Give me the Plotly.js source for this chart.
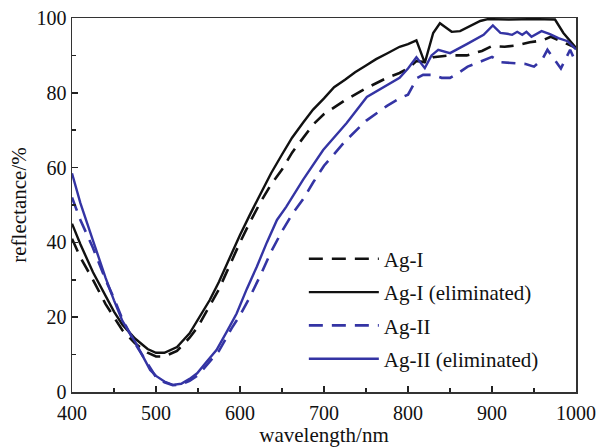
<!DOCTYPE html>
<html>
<head>
<meta charset="utf-8">
<script src="https://cdn.plot.ly/plotly-3.0.1.min.js"></script>
<style>html,body{margin:0;padding:0;background:#fff;}#chart{width:600px;height:447px;}</style>
</head>
<body>
<div id="chart"></div>
<script>
// Ag-I (dashed, black)
const agI_x = [400,410,425,440,450,460,475,490,500,510,525,540,550,560,575,590,600,612,625,637,650,662,675,687,700,725,750,775,790,800,810,820,830,850,870,888,900,915,930,945,960,970,985,1000];
const agI_y = [41,36,30,23.5,20,16.5,13,10.5,9.5,9.5,11,14.5,17.5,21.5,27.5,35,40,45.5,51,55.5,59.5,64,68,71.5,74.3,78,81.2,84,85.3,86.5,88.5,88.2,89.5,90,90,91.2,92.5,92.3,92.7,93.5,94,95,93.5,92];
// Ag-I (eliminated), solid black
const agIe_x = [400,410,425,440,450,460,475,490,500,510,525,540,550,564,575,588,600,612,625,637,650,662,675,687,700,712,725,737,750,762,775,790,800,810,820,830,838,852,862,874,886,895,920,950,975,985,1000];
const agIe_y = [45,39.5,32,25.5,21.5,18,14.3,11.5,10.5,10.5,12,15.7,19.5,24.6,29.5,36,42,47.5,53,58.5,63.5,68,72,75.5,78.5,81.5,83.5,85.5,87.3,89,90.5,92.3,93,94,88,96,98.6,96.3,96.5,97.8,99.2,99.7,99.6,99.7,99.6,96,92];
// Ag-II (dashed, blue)
const agII_x = [400,410,425,440,450,460,475,490,500,510,520,530,540,550,560,575,590,600,612,625,637,650,662,675,687,700,725,750,775,790,800,811,818,830,840,850,860,871,888,900,910,920,930,940,950,960,966,972,982,993,1000];
const agII_y = [52,46,38.5,30,25,19.5,13,7.5,4,2.6,1.8,2,3,4.5,7,11,17,20.5,25.5,31.5,37.5,43,47.5,51.5,56,60.5,67,72.5,76.5,78.5,79.5,84,84.8,84.8,84,84,85.3,87,88.5,89.6,88.2,88,88,87.7,87,89,91.5,89.5,86.5,91.5,88];
// Ag-II (eliminated), solid blue
const agIIe_x = [400,410,425,440,450,460,475,493,500,510,520,530,540,549,560,572,584,596,608,620,632,644,655,675,699,727,751,770,790,800,810,820,828,836,850,870,890,901,910,918,924,930,936,941,947,959,969,979,990,1000];
const agIIe_y = [58.5,50.5,40.5,30.5,24.5,19,13.5,5.9,4.3,2.8,1.9,2.2,3.5,5,8,11.2,16,21,27.5,33.5,40,46,49.5,56.7,64.7,71.9,78.9,81.3,84,86.5,89.5,86.6,90,91.5,90.6,93,95.5,98,96,95.8,95.5,96.3,95.5,96.3,95,96.5,95.7,94.6,93.8,91.6];

const seriesNames = ['Ag-I','Ag-I (eliminated)','Ag-II','Ag-II (eliminated)'];
const black = '#111111';
const blue = '#3434a4';
const dashLong = '14px,9px';

const traces = [
  {x: agI_x, y: agI_y, name: seriesNames[0], legendgroup: 'a', mode: 'lines', line: {color: black, width: 2.6, dash: dashLong}},
  {x: agIe_x, y: agIe_y, name: seriesNames[1], legendgroup: 'b', mode: 'lines', line: {color: black, width: 2.4}},
  {x: agII_x, y: agII_y, name: seriesNames[2], legendgroup: 'c', mode: 'lines', line: {color: blue, width: 2.6, dash: dashLong}},
  {x: agIIe_x, y: agIIe_y, name: seriesNames[3], legendgroup: 'd', mode: 'lines', line: {color: blue, width: 2.4}}
];

const fam = '"Liberation Serif", "Times New Roman", serif';

const layout = {
  width: 600, height: 447,
  margin: {l: 72, r: 24, t: 18, b: 55},
  paper_bgcolor: '#fff', plot_bgcolor: '#fff',
  font: {family: fam, color: '#111', size: 20},
  showlegend: true,
  legend: {x: 0.46, y: 0.41, xanchor: 'left', yanchor: 'top', bgcolor: 'rgba(0,0,0,0)',
           font: {family: fam, size: 21, color: '#111'}, tracegroupgap: 3, itemwidth: 70},
  xaxis: {
    range: [400, 1000], tick0: 400, dtick: 100, ticks: 'inside', ticklen: 6, tickwidth: 1.5, tickcolor: '#222',
    showline: true, linecolor: '#333', linewidth: 1.5, mirror: true, showgrid: false, zeroline: false,
    tickfont: {family: fam, size: 20, color: '#111'}, ticklabelstandoff: 2,
    minor: {dtick: 50, ticks: 'inside', ticklen: 4, tickwidth: 1.5, tickcolor: '#222', showgrid: false},
    title: {text: 'wavelength/nm', font: {family: fam, size: 21, color: '#111'}, standoff: 0}
  },
  yaxis: {
    range: [0, 100], tick0: 0, dtick: 20, ticks: 'inside', ticklen: 6, tickwidth: 1.5, tickcolor: '#222',
    showline: true, linecolor: '#333', linewidth: 1.5, mirror: true, showgrid: false, zeroline: false,
    tickfont: {family: fam, size: 20, color: '#111'},
    minor: {dtick: 10, ticks: 'inside', ticklen: 4, tickwidth: 1.5, tickcolor: '#222', showgrid: false},
    title: {text: 'reflectance/%', font: {family: fam, size: 21, color: '#111'}, standoff: 4}
  }
};

Plotly.newPlot('chart', traces, layout, {displayModeBar: false, staticPlot: true});
</script>
</body>
</html>
